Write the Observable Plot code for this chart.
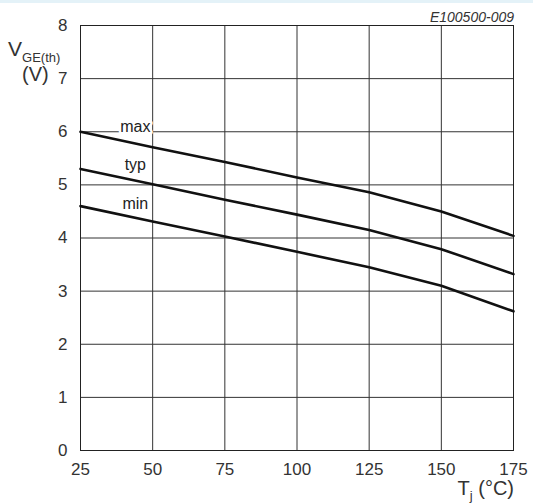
<!DOCTYPE html>
<html><head><meta charset="utf-8">
<script src="https://cdn.jsdelivr.net/npm/d3@7"></script>
<script src="https://cdn.jsdelivr.net/npm/@observablehq/plot@0.6"></script>
<style>
html,body{margin:0;padding:0;background:#fff;}
#chart svg{display:block;}
</style></head><body><div id="chart"></div>
<script>
const temps = [25, 50, 75, 100, 125, 150, 175];
const vMax = [6.0, 5.71, 5.43, 5.14, 4.86, 4.5, 4.04];
const vTyp = [5.3, 5.01, 4.72, 4.44, 4.15, 3.79, 3.32];
const vMin = [4.6, 4.31, 4.03, 3.74, 3.45, 3.1, 2.62];
const seriesNames = ["max", "typ", "min"];
const xTicks = [25, 50, 75, 100, 125, 150, 175];
const yTicks = [0, 1, 2, 3, 4, 5, 6, 7, 8];
const labelT = [44, 44, 44];
const labelV = [6.1, 5.37, 4.65];

const seriesVals = [vMax, vTyp, vMin];
const rows = [];
seriesNames.forEach((s, i) => temps.forEach((t, j) => rows.push({s, t, v: seriesVals[i][j]})));
const labels = seriesNames.map((s, i) => ({s, t: labelT[i], v: labelV[i]}));

const plot = Plot.plot({
  width: 533, height: 504,
  marginLeft: 80, marginRight: 20, marginTop: 25, marginBottom: 54,
  style: {fontFamily: "'Liberation Sans', Arial, sans-serif", fontSize: "17px", color: "#333",
          background: "linear-gradient(#e4f2f8 0 3px, #fff 3px)"},
  x: {domain: [25, 175], label: null},
  y: {domain: [0, 8], label: null},
  marks: [
    Plot.gridX(xTicks, {stroke: "#333", strokeOpacity: 1}),
    Plot.gridY(yTicks, {stroke: "#333", strokeOpacity: 1}),
    Plot.frame({stroke: "#222"}),
    Plot.text(labels, {x: "t", y: "v", text: "s", fill: "#222", stroke: "white", strokeWidth: 5, fontSize: 16}),
    Plot.line(rows, {x: "t", y: "v", z: "s", stroke: "#111", strokeWidth: 2.6}),
    Plot.axisX(xTicks, {tickSize: 0, tickPadding: 12, label: null, fontSize: 17, tickFormat: "d"}),
    Plot.axisY(yTicks, {tickSize: 0, tickPadding: 13, label: null, fontSize: 17, tickFormat: "d"})
  ]
});
document.getElementById("chart").appendChild(plot);

const svg = d3.select(plot);
const ff = "'Liberation Sans', Arial, sans-serif";
const yl = svg.append("text").attr("x", 8).attr("y", 56).attr("text-anchor", "start").attr("font-family", ff).attr("fill", "#333").attr("font-size", 21);
yl.append("tspan").text("V");
yl.append("tspan").attr("font-size", 13).attr("dy", 6).text("GE(th)");
svg.append("text").attr("x", 22).attr("y", 81).attr("text-anchor", "start").attr("font-family", ff).attr("fill", "#333").attr("font-size", 20).text("(V)");

const xl = svg.append("text").attr("x", 514).attr("y", 495).attr("text-anchor", "end").attr("font-family", ff).attr("fill", "#333").attr("font-size", 20);
xl.append("tspan").text("T");
xl.append("tspan").attr("font-size", 13).attr("dy", 5).text("j");
xl.append("tspan").attr("dy", -5).text(" (°C)");

svg.append("text").attr("x", 514).attr("y", 22).attr("text-anchor", "end").attr("font-family", ff)
  .attr("font-style", "italic").attr("fill", "#333").attr("font-size", 14).text("E100500-009");
</script></body></html>
